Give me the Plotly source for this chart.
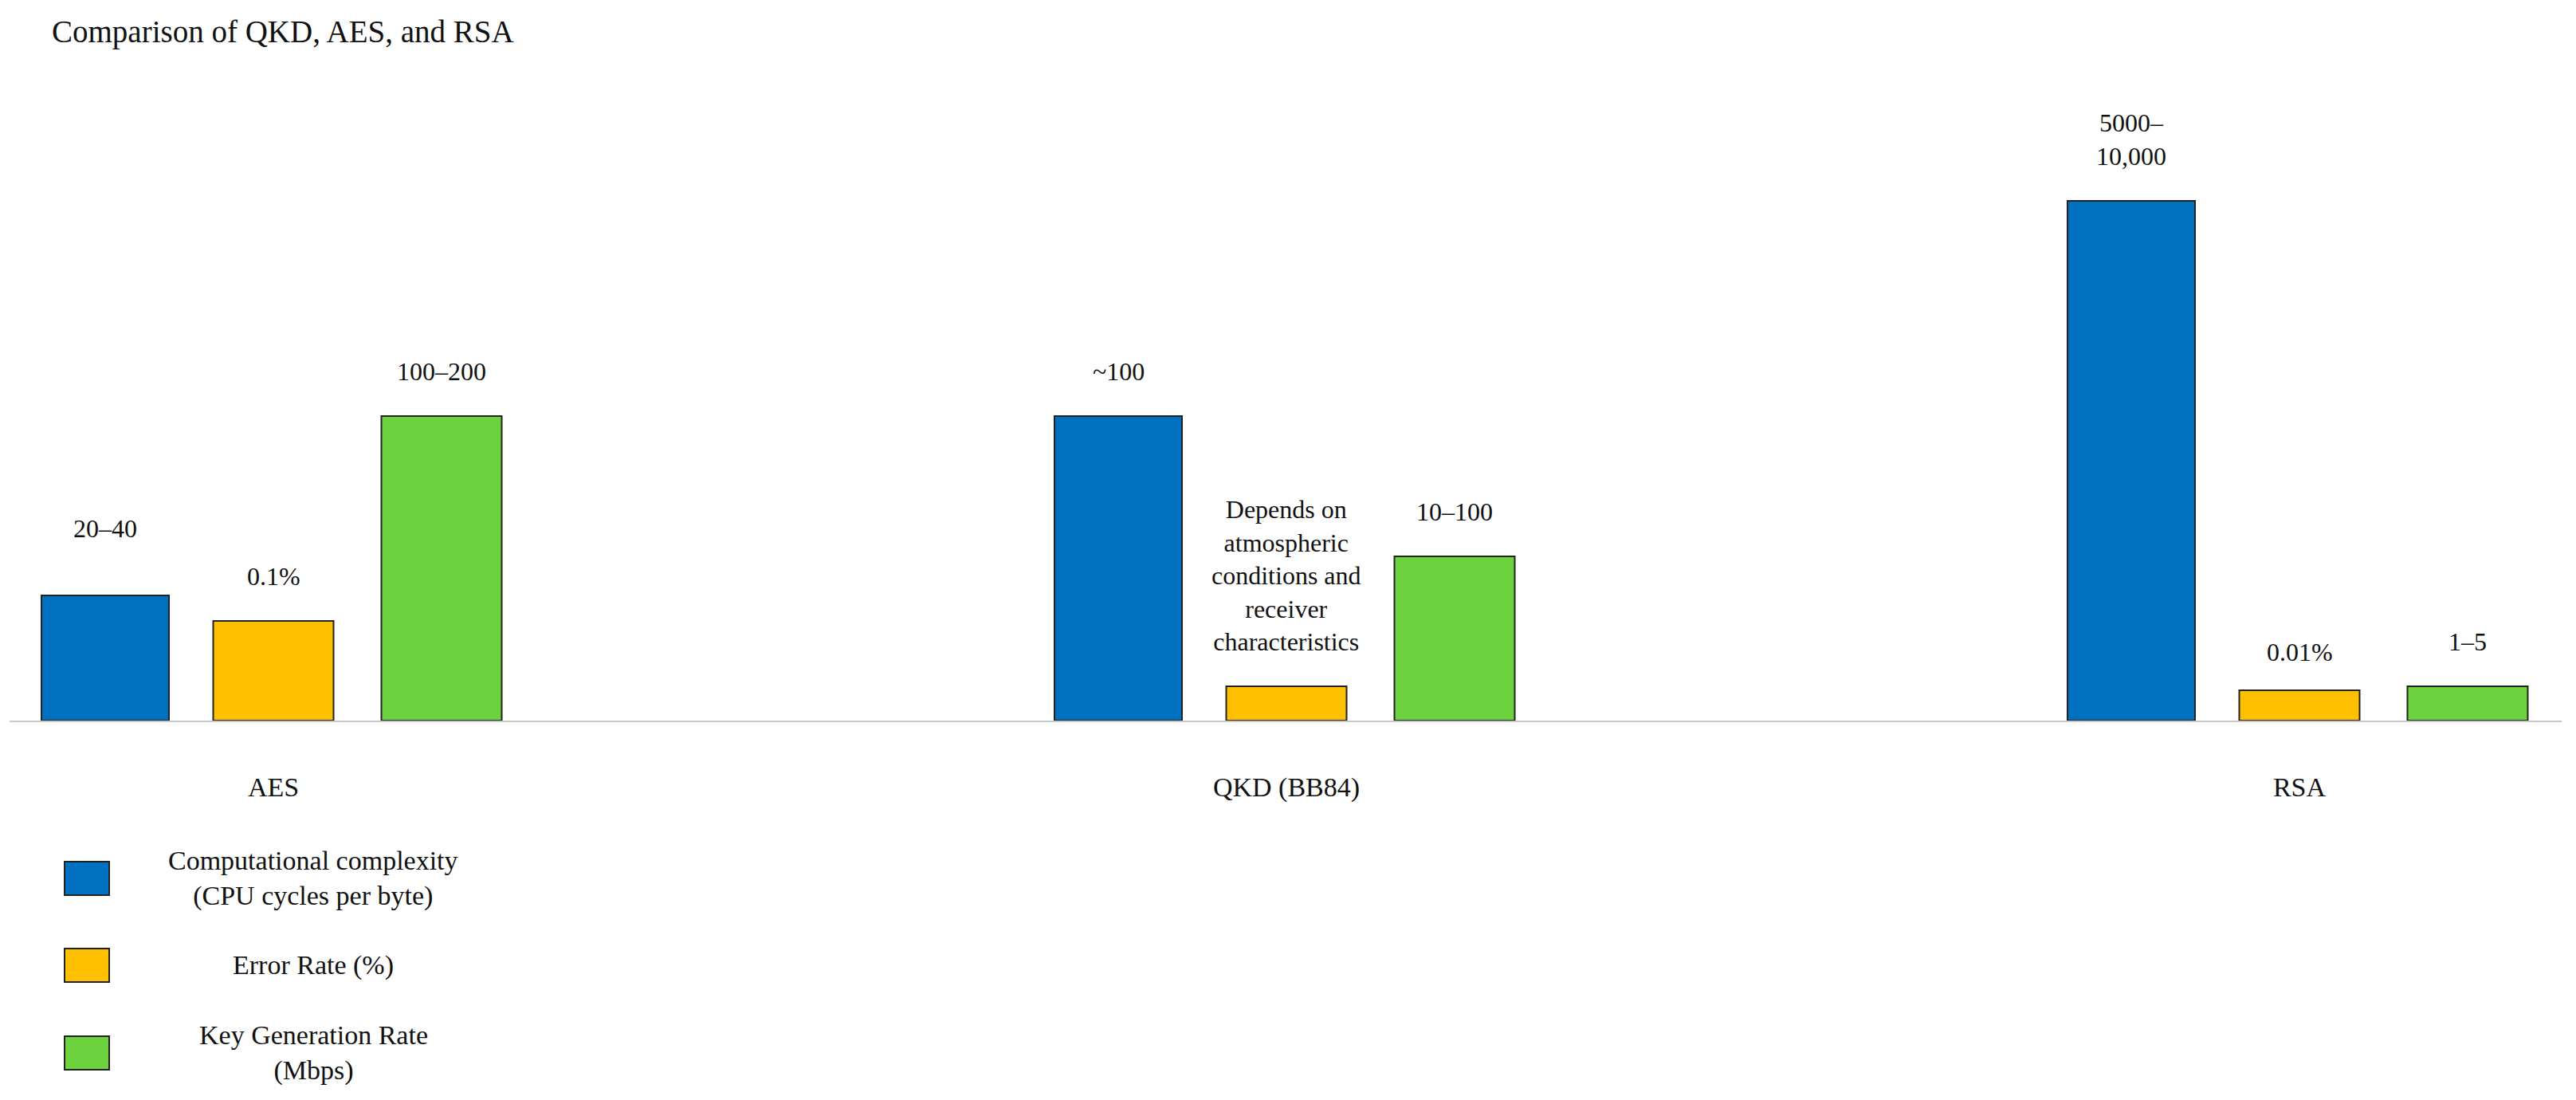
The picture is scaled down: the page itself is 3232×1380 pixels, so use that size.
"""
Comparison of QKD, AES and RSA - grouped bar chart
"""
import plotly.graph_objects as go

# Categories and series (bar heights are relative)
CATEGORIES = ['AES', 'QKD (BB84)', 'RSA']
SERIES_NAMES = [
    'Computational complexity<br>(CPU cycles per byte)',
    'Error Rate (%)',
    'Key Generation Rate<br>(Mbps)',
]
complexity = [157, 382, 652]
error_rate = [125, 43, 38]
key_rate = [382, 206, 43]

complexity_labels = ['20–40', '~100', '5000–<br>10,000']
error_labels = ['0.1%',
                'Depends on<br>atmospheric<br>conditions and<br>receiver<br>characteristics',
                '0.01%']
key_labels = ['100–200', '10–100', '1–5']

COLORS = ['#0070C0', '#FFC000', '#6CD33F']
OUTLINE = '#222222'
FONT = 'Liberation Serif, Times New Roman, serif'

# Page geometry (px). The html body has an 8px margin, so the figure is
# a bit smaller than the window and everything is placed relative to it.
PAGE_PAD = 8
W, H = 3232 - 2 * PAGE_PAD, 1380 - 2 * PAGE_PAD
L, R, T, B = 4, 10, 92, 468
PLOT_W = W - L - R
PLOT_H = H - T - B
UNIT_PX = 1271                      # px per category step
SLOT = 211 / UNIT_PX                # distance between bars in a group
BAR_W = [160 / UNIT_PX, 151 / UNIT_PX, 151 / UNIT_PX]
LABEL_SHIFT = 36
# a few labels sit a little off the common distance in the original
LABEL_NUDGE = {(0, 0): 28, (1, 2): -8}


def paper_x(px):
    return (px - PAGE_PAD - L) / PLOT_W


def paper_y(py):
    return (H - B - (py - PAGE_PAD)) / PLOT_H


values = [complexity, error_rate, key_rate]
labels = [complexity_labels, error_labels, key_labels]

fig = go.Figure()
for i, (name, vals) in enumerate(zip(SERIES_NAMES, values)):
    fig.add_trace(go.Bar(
        name=name,
        x=CATEGORIES,
        y=vals,
        width=BAR_W[i],
        offset=(i - 1) * SLOT - BAR_W[i] / 2,
        marker=dict(color=COLORS[i], line=dict(color=OUTLINE, width=2)),
        showlegend=False,
    ))

# Value labels above bars
annotations = []
for i, (vals, texts) in enumerate(zip(values, labels)):
    for j, (v, t) in enumerate(zip(vals, texts)):
        annotations.append(dict(
            x=j + (i - 1) * SLOT, y=v, xref='x', yref='y',
            text=t, showarrow=False, yanchor='bottom',
            yshift=LABEL_SHIFT + LABEL_NUDGE.get((i, j), 0),
            font=dict(size=32, color='#111111', family=FONT),
        ))

# Legend drawn by hand: big swatch on the left, centred text
shapes = []
LEG_SWATCH_X = (81, 137)
LEG_TEXT_X = 393
LEG_ROW_Y = [1102, 1211, 1321]
for i, name in enumerate(SERIES_NAMES):
    cy = LEG_ROW_Y[i]
    shapes.append(dict(
        type='rect', xref='paper', yref='paper',
        x0=paper_x(LEG_SWATCH_X[0]), x1=paper_x(LEG_SWATCH_X[1]),
        y0=paper_y(cy - 21), y1=paper_y(cy + 21),
        fillcolor=COLORS[i], line=dict(color=OUTLINE, width=2),
    ))
    annotations.append(dict(
        x=paper_x(LEG_TEXT_X), y=paper_y(cy), xref='paper', yref='paper',
        text=name, showarrow=False, align='center',
        xanchor='center', yanchor='middle',
        font=dict(size=34, color='#111111', family=FONT),
    ))

x_lo = -(343 - PAGE_PAD - L) / UNIT_PX
fig.update_layout(
    width=W, height=H,
    title=dict(
        text='Comparison of QKD, AES, and RSA',
        x=(65 - PAGE_PAD) / W, xanchor='left', xref='container',
        y=1 - (39 - PAGE_PAD) / H, yanchor='middle', yref='container',
        font=dict(size=39, color='#111111', family=FONT),
    ),
    barmode='overlay',
    margin=dict(l=L, r=R, t=T, b=B),
    paper_bgcolor='white',
    plot_bgcolor='white',
    font=dict(family=FONT, color='#111111'),
    xaxis=dict(
        range=[x_lo, x_lo + PLOT_W / UNIT_PX],
        showline=True, linecolor='#c8c8c8', linewidth=2,
        showgrid=False, zeroline=False, ticks='',
        tickfont=dict(size=34, family=FONT, color='#111111'),
        ticklabelstandoff=52,
    ),
    yaxis=dict(range=[0, PLOT_H], visible=False),
    annotations=annotations,
    shapes=shapes,
)

fig.write_html("out.html")
